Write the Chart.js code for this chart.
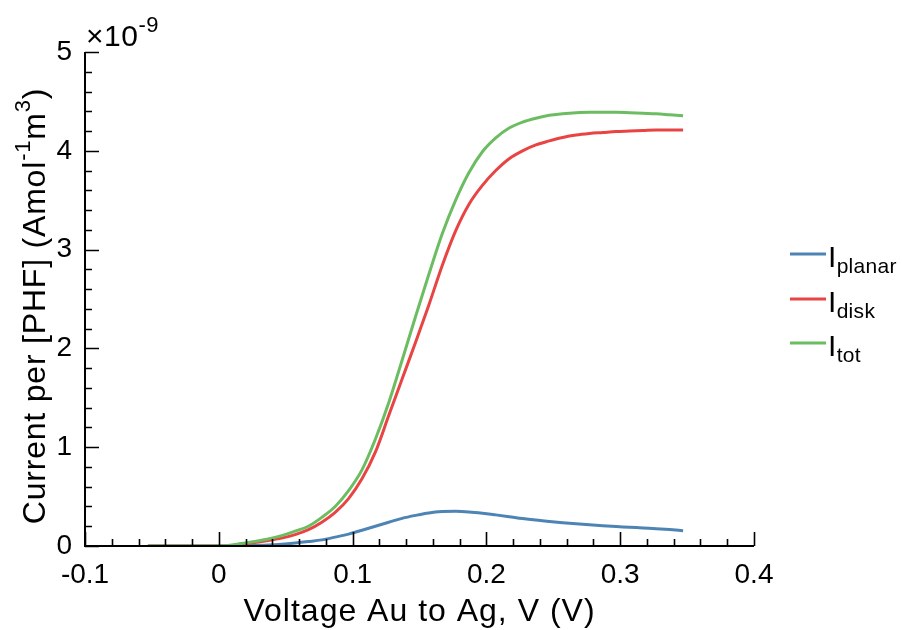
<!DOCTYPE html>
<html lang="en">
<head>
    <meta charset="UTF-8">
    <title>Current per [PHF] vs voltage</title>
    <script src="https://cdn.jsdelivr.net/npm/chart.js"></script>
    <style>
        body {
            margin: 0;
            background: #fff;
        }
        .chart-container {
            position: relative;
            width: 902px;
            height: 630px;
        }
    </style>
</head>
<body>
<div class="chart-container">
    <canvas id="chart"></canvas>
</div>

<script>
    // Напряжение Au к Ag, В
    const voltage = [-0.053, -0.043, -0.033, -0.023, -0.013, -0.003, 0.007, 0.017, 0.027, 0.037,
        0.047, 0.057, 0.067, 0.077, 0.087, 0.097, 0.107, 0.117, 0.127, 0.137,
        0.147, 0.157, 0.167, 0.177, 0.187, 0.197, 0.207, 0.217, 0.227, 0.237,
        0.247, 0.257, 0.267, 0.277, 0.287, 0.297, 0.307, 0.317, 0.327, 0.337, 0.347];

    // Токи, в единицах 1e-9 A mol^-1 m^3
    const iPlanar = [0, 0, 0, 0, 0, 0, 0, 0.003, 0.006, 0.01,
        0.018, 0.03, 0.045, 0.062, 0.09, 0.12, 0.16, 0.20, 0.24, 0.28,
        0.31, 0.335, 0.348, 0.351, 0.345, 0.332, 0.315, 0.297, 0.278, 0.262,
        0.248, 0.235, 0.224, 0.214, 0.205, 0.197, 0.19, 0.182, 0.175, 0.166, 0.155];

    const iDisk = [0, 0, 0, 0, 0, 0, 0, 0.02, 0.035, 0.055,
        0.08, 0.115, 0.165, 0.24, 0.34, 0.48, 0.68, 0.95, 1.32, 1.69,
        2.06, 2.44, 2.84, 3.19, 3.46, 3.65, 3.80, 3.92, 4.00, 4.06,
        4.10, 4.135, 4.16, 4.175, 4.185, 4.195, 4.20, 4.205, 4.21, 4.21, 4.21];

    const iTot = [0, 0, 0, 0, 0, 0, 0.005, 0.025, 0.045, 0.07,
        0.105, 0.15, 0.20, 0.29, 0.40, 0.56, 0.77, 1.08, 1.45, 1.88,
        2.32, 2.75, 3.16, 3.50, 3.78, 3.99, 4.13, 4.23, 4.29, 4.33,
        4.36, 4.375, 4.385, 4.39, 4.39, 4.39, 4.385, 4.38, 4.375, 4.365, 4.355];

    const seriesNames = ['planar', 'disk', 'tot'];
    const seriesColors = ['#4d84b4', '#e94444', '#6cbd62'];

    // Оси
    const X_MIN = -0.1, X_MAX = 0.4, X_STEP = 0.1;
    const Y_MIN = 0, Y_MAX = 5, Y_STEP = 1;

    const FONT = '"Liberation Sans", Arial, sans-serif';

    function toPoints(ys) {
        return voltage.map((v, i) => ({x: v, y: ys[i]}));
    }

    // Текст с верхними/нижними индексами
    function richText(ctx, parts, x, y, align, spacing) {
        ctx.letterSpacing = (spacing || 0) + 'px';
        let total = 0;
        parts.forEach(p => {
            ctx.font = p.size + 'px ' + FONT;
            p.w = ctx.measureText(p.t).width;
            total += p.w;
        });
        let cx = align === 'center' ? x - total / 2 : x;
        parts.forEach(p => {
            ctx.font = p.size + 'px ' + FONT;
            ctx.fillText(p.t, cx, y + (p.dy || 0));
            cx += p.w;
        });
        ctx.letterSpacing = '0px';
    }

    const decor = {
        id: 'decor',
        afterDraw(chart) {
            const ctx = chart.ctx;
            const xs = chart.scales.x, ys = chart.scales.y;
            const a = chart.chartArea;
            ctx.save();
            ctx.strokeStyle = '#000';
            ctx.fillStyle = '#000';

            // оси
            ctx.lineWidth = 2;
            ctx.beginPath();
            ctx.moveTo(a.left, ys.getPixelForValue(Y_MAX));
            ctx.lineTo(a.left, a.bottom);
            ctx.lineTo(xs.getPixelForValue(X_MAX), a.bottom);
            ctx.stroke();

            // засечки внутрь
            ctx.lineWidth = 1.6;
            ctx.beginPath();
            for (let i = 0; i <= 25; i++) {
                const px = Math.round(xs.getPixelForValue(X_MIN + i * X_STEP / 5)) + 0.5;
                const len = i % 5 === 0 ? 14 : 7;
                ctx.moveTo(px, a.bottom);
                ctx.lineTo(px, a.bottom - len);
            }
            for (let i = 0; i <= 25; i++) {
                const py = Math.round(ys.getPixelForValue(Y_MIN + i * Y_STEP / 5)) + 0.5;
                const len = i % 5 === 0 ? 14 : 7;
                ctx.moveTo(a.left, py);
                ctx.lineTo(a.left + len, py);
            }
            ctx.stroke();

            ctx.textBaseline = 'alphabetic';
            ctx.textAlign = 'left';

            // множитель
            richText(ctx, [
                {t: '\u00d710', size: 30},
                {t: '-9', size: 22, dy: -14}
            ], 86, 46, 'left', 0.5);

            // подпись оси X
            richText(ctx, [{t: 'Voltage Au to Ag, V (V)', size: 32}],
                (a.left + xs.getPixelForValue(X_MAX)) / 2, 621, 'center', 1);

            // подпись оси Y
            ctx.save();
            ctx.translate(45, 306);
            ctx.rotate(-Math.PI / 2);
            richText(ctx, [
                {t: 'Current per [PHF] (Amol', size: 32},
                {t: '-1', size: 22, dy: -15},
                {t: 'm', size: 32},
                {t: '3', size: 22, dy: -15},
                {t: ')', size: 32}
            ], 0, 0, 'center', 0.8);
            ctx.restore();

            // легенда
            const legendY = [254, 299, 343];
            seriesNames.forEach((name, i) => {
                ctx.strokeStyle = seriesColors[i];
                ctx.lineWidth = 3;
                ctx.beginPath();
                ctx.moveTo(790, legendY[i]);
                ctx.lineTo(826, legendY[i]);
                ctx.stroke();
                ctx.fillStyle = '#000';
                richText(ctx, [
                    {t: 'I', size: 30},
                    {t: name, size: 21, dy: 6}
                ], 828, legendY[i] + 13, 'left', 0.3);
            });
            ctx.restore();
        }
    };

    const ctx = document.getElementById('chart').getContext('2d');
    const chart = new Chart(ctx, {
        type: 'line',
        data: {
            datasets: seriesNames.map((name, i) => ({
                label: 'I' + name,
                data: toPoints([iPlanar, iDisk, iTot][i]),
                borderColor: seriesColors[i],
                backgroundColor: seriesColors[i],
                borderWidth: 3,
                pointRadius: 0,
                fill: false,
                cubicInterpolationMode: 'monotone',
                order: 3 - i
            }))
        },
        options: {
            responsive: true,
            maintainAspectRatio: false,
            devicePixelRatio: 1,
            animation: false,
            layout: {
                padding: {left: 0, top: 52, right: 148, bottom: 0}
            },
            plugins: {
                legend: {display: false},
                tooltip: {enabled: false}
            },
            scales: {
                x: {
                    type: 'linear',
                    min: X_MIN,
                    max: X_MAX,
                    grid: {display: false, drawTicks: false},
                    border: {display: false},
                    ticks: {
                        stepSize: X_STEP,
                        color: '#000',
                        padding: 12,
                        maxRotation: 0,
                        font: {family: FONT, size: 28},
                        callback: v => Number(v.toFixed(2)).toString()
                    },
                    afterFit: s => { s.height = 84; }
                },
                y: {
                    min: Y_MIN,
                    max: Y_MAX,
                    grid: {display: false, drawTicks: false},
                    border: {display: false},
                    ticks: {
                        stepSize: Y_STEP,
                        color: '#000',
                        padding: 13,
                        font: {family: FONT, size: 28}
                    },
                    afterFit: s => { s.width = 85; }
                }
            }
        },
        plugins: [decor]
    });
</script>
</body>
</html>
